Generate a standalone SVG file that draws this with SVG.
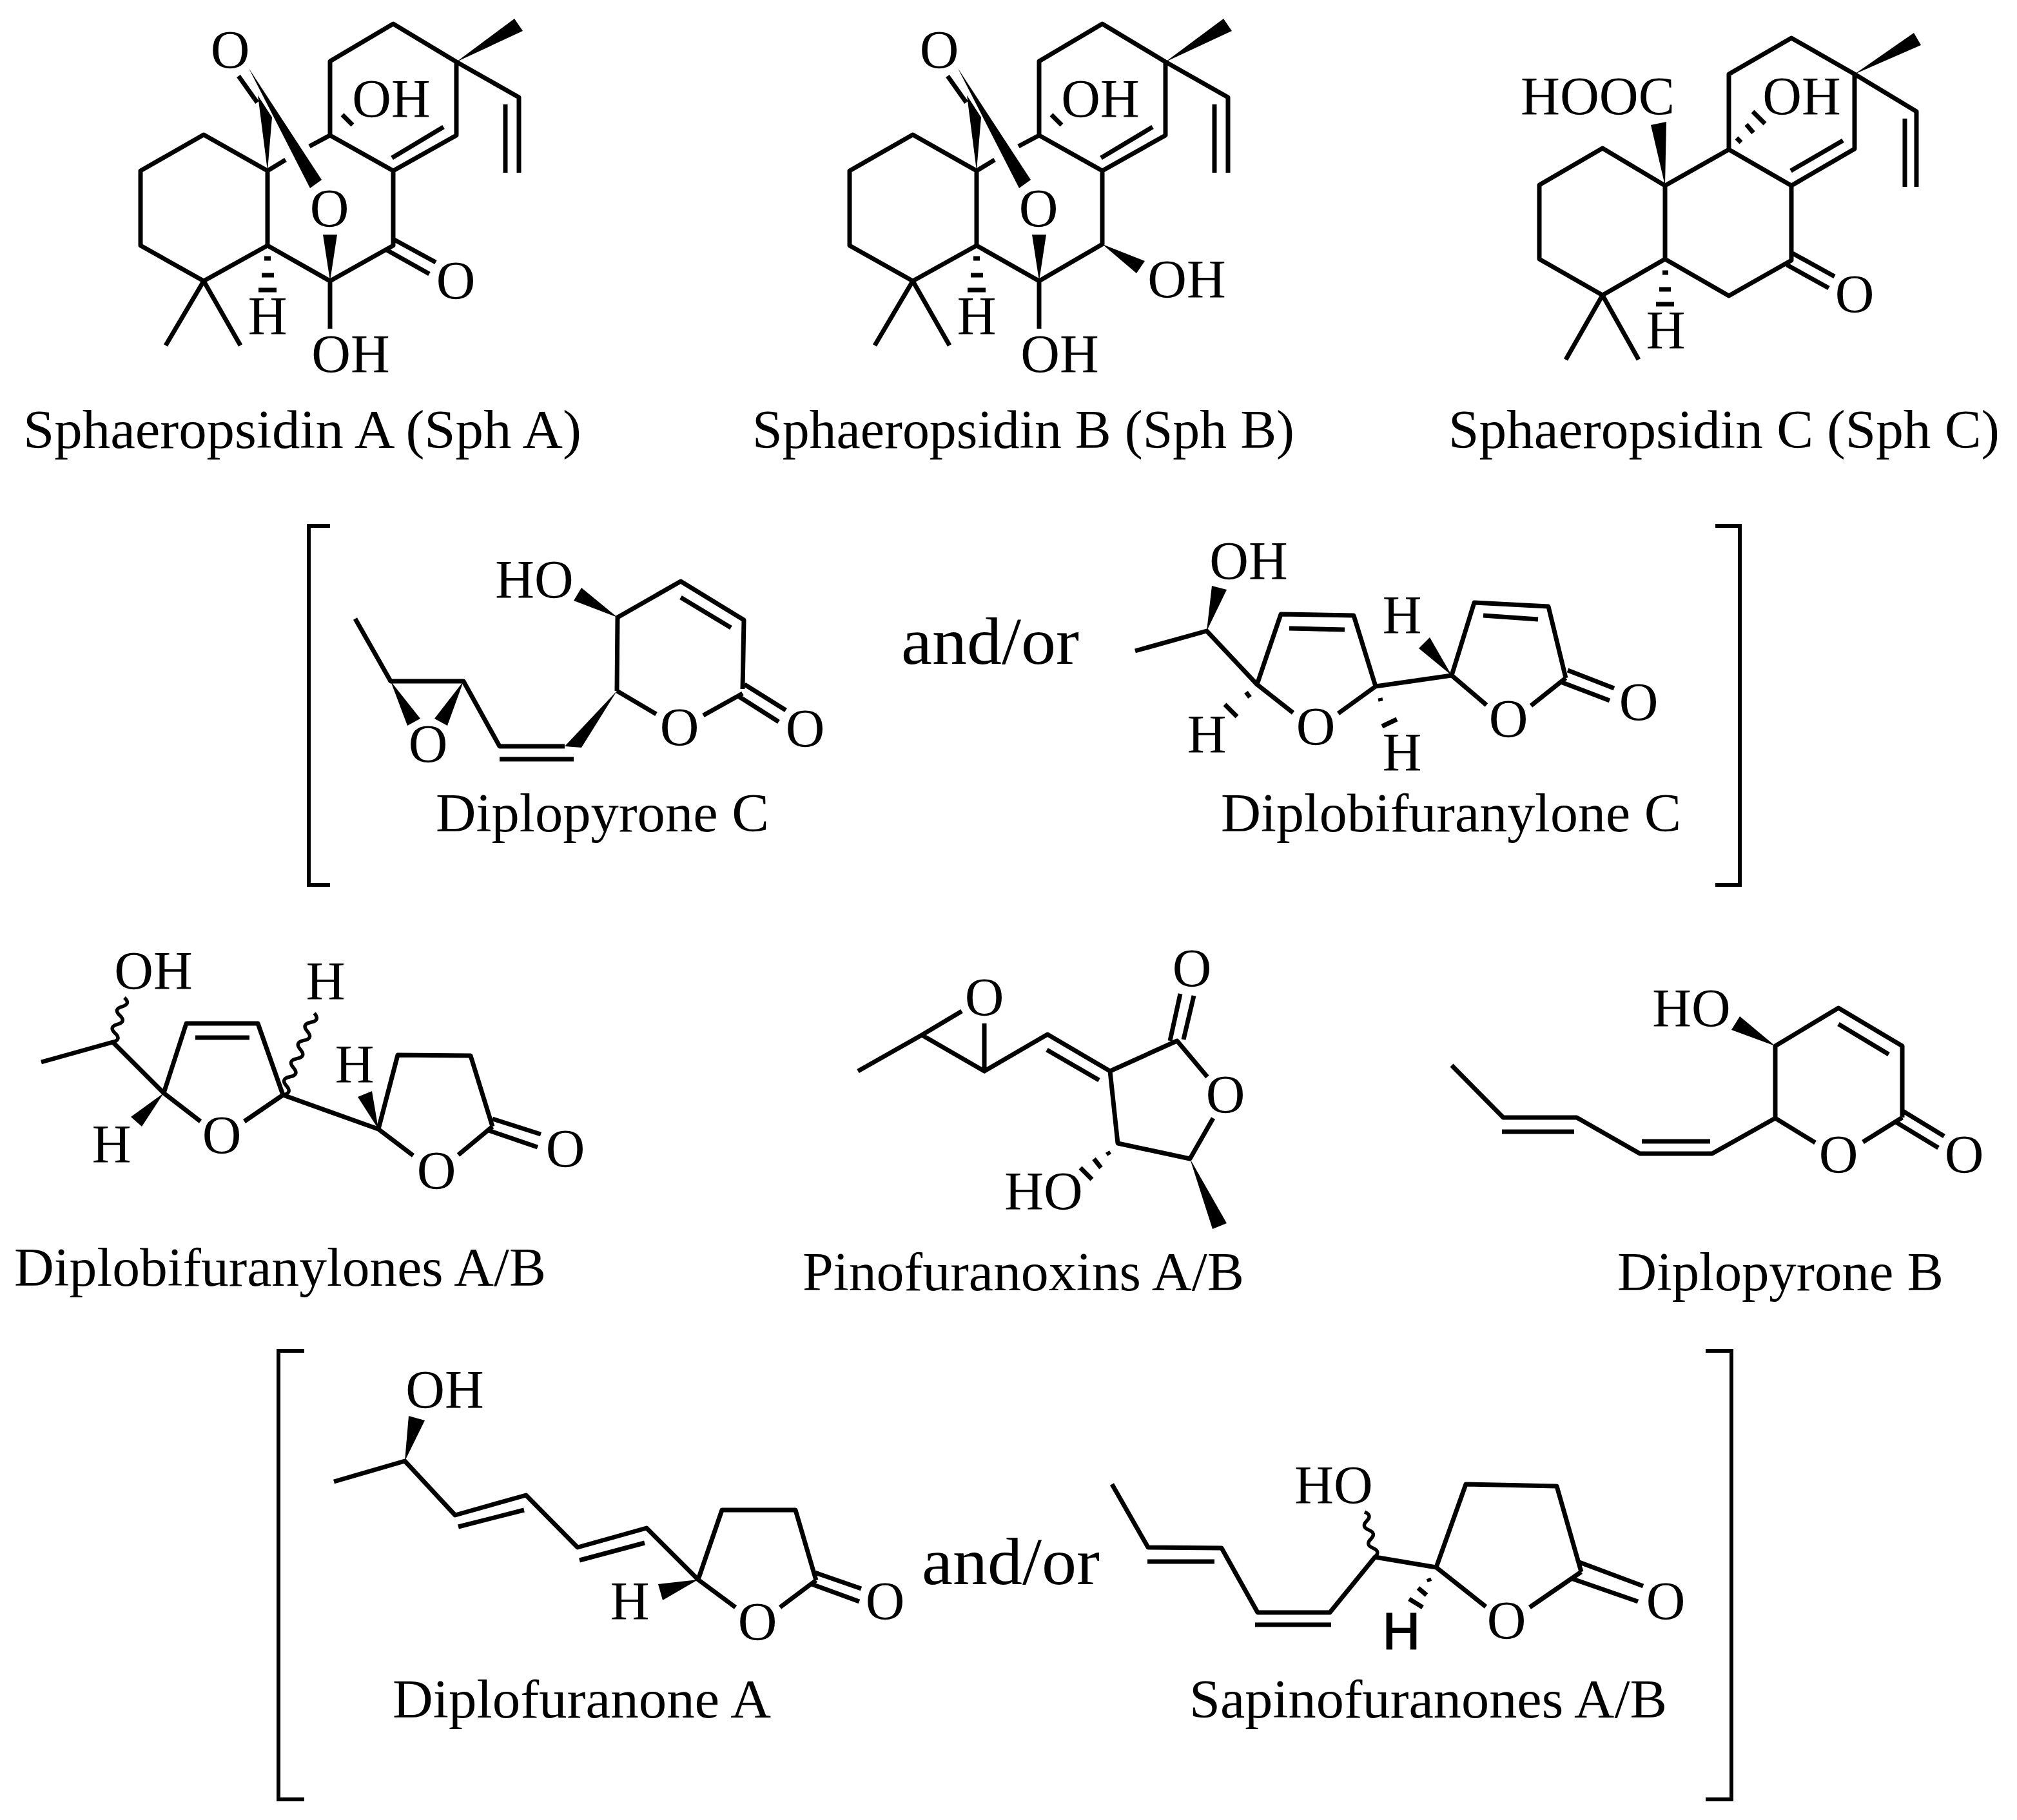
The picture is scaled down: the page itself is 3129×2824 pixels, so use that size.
<svg xmlns="http://www.w3.org/2000/svg" width="3129" height="2824" viewBox="0 0 3129 2824">
<style>
.b{fill:none;stroke:#000;stroke-width:7;stroke-linejoin:round}
.w{fill:none;stroke:#000;stroke-width:5.5}
.k{fill:none;stroke:#000;stroke-width:6;stroke-linejoin:miter}
polygon{fill:#000;stroke:none}
text{font-family:"Liberation Serif","Times New Roman",serif;font-size:84px;fill:#000}
.a{text-anchor:middle}
.s{font-family:"Liberation Sans",Arial,sans-serif;font-size:80px;text-anchor:middle;stroke:#000;stroke-width:2}
.o{font-size:104px}
</style>
<rect width="3129" height="2824" fill="#fff"/>
<g id="sphaeropsidin-a">
<path class="b" d="M415 381L415 265L316 209L218 265L218 381L316 436L415 381L512 436L610 381L610 265L512 210L512 95L610 37L708 96L708 210L610 265M316 436L257 536M316 436L373 536M512 436L512 510M708 96L805 151L805 268M784 162L784 268M688 197L608 245M415 265L443 248M480 227L512 210M370 118L399 159M531 178L547 194M610 371L676 407M600 388L666 425M410 401H420M406 427H425M401 450H429"/>
<polygon points="708,96 798,29 811,48"/><polygon points="512,436 501,364 523,364"/><polygon points="415,265 400,148 422,182"/><polygon points="386,106 481,292 499,279"/>
<text class="a" x="357" y="106">O</text><text class="a" x="607" y="182">OH</text><text class="a" x="511" y="352">O</text><text class="a" x="707" y="464">O</text><text class="a" x="415" y="519">H</text><text class="a" x="544" y="578">OH</text>
<text x="36" y="695" textLength="866" lengthAdjust="spacingAndGlyphs">Sphaeropsidin A (Sph A)</text>
</g>
<g id="sphaeropsidin-b">
<path class="b" d="M1515 381L1515 265L1416 209L1318 265L1318 381L1416 436L1515 381L1612 436L1710 379L1710 265L1612 210L1612 95L1710 37L1808 96L1808 210L1710 265M1416 436L1357 536M1416 436L1473 536M1612 436L1612 510M1808 96L1905 151L1905 268M1884 162L1884 268M1788 197L1708 245M1515 265L1543 248M1580 227L1612 210M1470 118L1499 159M1631 178L1647 194M1510 401H1520M1506 427H1525M1501 450H1529"/>
<polygon points="1808,96 1898,29 1911,48"/><polygon points="1612,436 1601,364 1623,364"/><polygon points="1515,265 1500,148 1522,182"/><polygon points="1486,106 1581,292 1599,279"/><polygon points="1710,379 1776,405 1763,424"/>
<text class="a" x="1457" y="106">O</text><text class="a" x="1707" y="182">OH</text><text class="a" x="1611" y="352">O</text><text class="a" x="1841" y="462">OH</text><text class="a" x="1515" y="519">H</text><text class="a" x="1644" y="578">OH</text>
<text x="1167" y="695" textLength="841" lengthAdjust="spacingAndGlyphs">Sphaeropsidin B (Sph B)</text>
</g>
<g id="sphaeropsidin-c">
<path class="b" d="M2583 402L2583 288L2486 230L2388 287L2388 402L2486 458L2583 402L2682 459L2779 404L2779 288L2682 232L2682 115L2779 59L2877 115L2877 231L2779 288M2682 232L2583 288M2486 458L2429 558M2486 458L2542 558M2877 115L2973 173L2973 290M2955 184L2955 290M2859 218L2778 265M2779 392L2846 429M2772 411L2837 447M2709 193L2720 206M2719 173L2738 192M2694 214L2701 221M2579 423H2588M2574 449H2592M2569 472H2597"/>
<polygon points="2877,115 2969,51 2980,70"/><polygon points="2583,288 2561,194 2585,189"/>
<text x="2359" y="178" textLength="239" lengthAdjust="spacingAndGlyphs">HOOC</text><text class="a" x="2795" y="178">OH</text><text class="a" x="2877" y="485">O</text><text class="a" x="2584" y="541">H</text>
<text x="2247" y="695" textLength="855" lengthAdjust="spacingAndGlyphs">Sphaeropsidin C (Sph C)</text>
</g>
<g id="bracket-upper">
<path class="k" d="M512 816H479V1373H512M2661 816H2699V1373H2661"/>
</g>
<g id="diplopyrone-c">
<path class="b" d="M551 960L606 1057L719 1057L775 1158L876 1158M775 1178L890 1178M957 1072L958 958L1056 902L1154 962L1152 1069M1056 927L1134 974M957 1072L1018 1108M1091 1110L1152 1076M1155 1062L1219 1102M1145 1080L1208 1120"/>
<polygon points="606,1057 632,1126 652,1115"/><polygon points="719,1057 674,1115 694,1126"/><polygon points="957,1072 876,1158 902,1160"/><polygon points="958,958 902,912 890,932"/>
<text class="a" x="829" y="928">HO</text><text class="a" x="664" y="1183">O</text><text class="a" x="1054" y="1157">O</text><text class="a" x="1249" y="1159">O</text>
<text x="676" y="1290" textLength="517" lengthAdjust="spacingAndGlyphs">Diplopyrone C</text>
</g>
<text id="and-or-upper" class="o" x="1398" y="1030" textLength="276" lengthAdjust="spacingAndGlyphs">and/or</text>
<g id="diplobifuranylone-c">
<path class="b" d="M1761 1010L1872 979L1950 1062L1987 953L2100 955L2134 1065L2252 1048L2287 935L2402 941L2429 1052M2000 975L2086 977M1950 1062L2006 1106M2134 1065L2076 1107M1900 1093L1919 1112M1933 1074L1939 1082M2141 1083L2142 1088M2144 1127L2167 1116M2301 955L2386 961M2252 1048L2306 1094M2429 1052L2375 1095M2432 1040L2504 1068M2421 1058L2497 1087"/>
<polygon points="1872,979 1880,909 1903,915"/><polygon points="2252,1048 2218,989 2201,1006"/>
<text class="a" x="1937" y="899">OH</text><text class="a" x="2175" y="983">H</text><text class="a" x="1872" y="1168">H</text><text class="a" x="2041" y="1156">O</text><text class="a" x="2175" y="1196">H</text><text class="a" x="2340" y="1144">O</text><text class="a" x="2542" y="1118">O</text>
<text x="1894" y="1290" textLength="714" lengthAdjust="spacingAndGlyphs">Diplobifuranylone C</text>
</g>
<g id="diplobifuranylones-ab">
<path class="b" d="M64 1648L175 1617L254 1696L289 1588L400 1588L439 1699L587 1752L617 1637L730 1638L764 1748M303 1610L387 1610M254 1696L311 1740M439 1699L379 1740M587 1752L641 1793M764 1748L711 1792M764 1736L839 1760M758 1754L834 1780"/>
<path class="w" d="M175 1617q14 -4 3.6 -13.8t3.6 -13.8t3.6 -13.8t3.6 -13.8t3.6 -13.8M439 1699q15 -3 5.4 -14.1t5.4 -14.1t5.4 -14.1t5.4 -14.1t5.4 -14.1t5.4 -14.1t5.4 -14.1t5.4 -14.1t5.4 -14.1"/>
<polygon points="254,1696 203,1733 220,1748"/><polygon points="587,1752 555,1702 577,1693"/>
<text class="a" x="238" y="1535">OH</text><text class="a" x="505" y="1551">H</text><text class="a" x="550" y="1680">H</text><text class="a" x="173" y="1804">H</text><text class="a" x="344" y="1790">O</text><text class="a" x="677" y="1845">O</text><text class="a" x="877" y="1811">O</text>
<text x="22" y="1995" textLength="825" lengthAdjust="spacingAndGlyphs">Diplobifuranylones A/B</text>
</g>
<g id="pinofuranoxins-ab">
<path class="b" d="M1331 1662L1430 1606L1527 1662L1527 1588M1430 1606L1492 1569M1527 1662L1625 1605L1722 1662L1826 1615L1873 1671M1624 1629L1705 1676M1815 1615L1831 1542M1836 1613L1852 1545M1882 1735L1846 1798L1734 1774L1722 1662M1718 1787L1721 1792M1697 1798L1708 1812M1676 1812L1694 1830"/>
<polygon points="1846,1798 1881,1907 1903,1898"/>
<text class="a" x="1527" y="1576">O</text><text class="a" x="1849" y="1531">O</text><text class="a" x="1901" y="1727">O</text><text class="a" x="1619" y="1877">HO</text>
<text x="1245" y="2002" textLength="685" lengthAdjust="spacingAndGlyphs">Pinofuranoxins A/B</text>
</g>
<g id="diplopyrone-b">
<path class="b" d="M2252 1653L2332 1734L2446 1734L2544 1790L2656 1790L2754 1735L2754 1623L2852 1564L2951 1623L2951 1734M2330 1756L2442 1756M2547 1771L2653 1771M2852 1589L2930 1636M2754 1735L2816 1773M2890 1772L2951 1734M2952 1724L3016 1763M2941 1741L3007 1781"/>
<polygon points="2754,1623 2699,1577 2686,1598"/>
<text class="a" x="2624" y="1593">HO</text><text class="a" x="2852" y="1820">O</text><text class="a" x="3047" y="1820">O</text>
<text x="2509" y="2002" textLength="506" lengthAdjust="spacingAndGlyphs">Diplopyrone B</text>
</g>
<g id="bracket-lower">
<path class="k" d="M472 2096H432V2792H472M2646 2096H2686V2792H2646"/>
</g>
<g id="diplofuranone-a">
<path class="b" d="M518 2299L628 2267L706 2351L816 2320L896 2401L1003 2371L1083 2451L1120 2343L1234 2343L1266 2452M711 2369L813 2343M899 2421L1000 2394M1083 2451L1141 2494M1266 2452L1210 2494M1264 2440L1336 2465M1259 2458L1333 2485"/>
<polygon points="628,2267 634,2197 659,2204"/><polygon points="1083,2451 1021,2458 1028,2483"/>
<text class="a" x="690" y="2185">OH</text><text class="a" x="977" y="2513">H</text><text class="a" x="1175" y="2545">O</text><text class="a" x="1373" y="2513">O</text>
<text x="609" y="2665" textLength="587" lengthAdjust="spacingAndGlyphs">Diplofuranone A</text>
</g>
<text id="and-or-lower" class="o" x="1430" y="2458" textLength="276" lengthAdjust="spacingAndGlyphs">and/or</text>
<g id="sapinofuranones-ab">
<path class="b" d="M1725 2303L1781 2401L1895 2402L1951 2502L2063 2502L2133 2416L2228 2432L2274 2303L2415 2306L2453 2439M1780 2423L1884 2423M1947 2521L2065 2521M2228 2432L2305 2493M2453 2439L2373 2494M2450 2424L2549 2461M2440 2450L2541 2485M2216 2449L2218 2454M2200 2464L2213 2475M2186 2481L2207 2494"/>
<path class="w" d="M2133 2416q9 -9 -3.2 -14t-3.2 -14t-3.2 -14t-3.2 -14t-3.2 -14"/>
<text class="a" x="2069" y="2333">HO</text><text class="s" x="2174" y="2558">H</text><text class="a" x="2337" y="2543">O</text><text class="a" x="2584" y="2513">O</text>
<text x="1845" y="2665" textLength="741" lengthAdjust="spacingAndGlyphs">Sapinofuranones A/B</text>
</g>
</svg>
